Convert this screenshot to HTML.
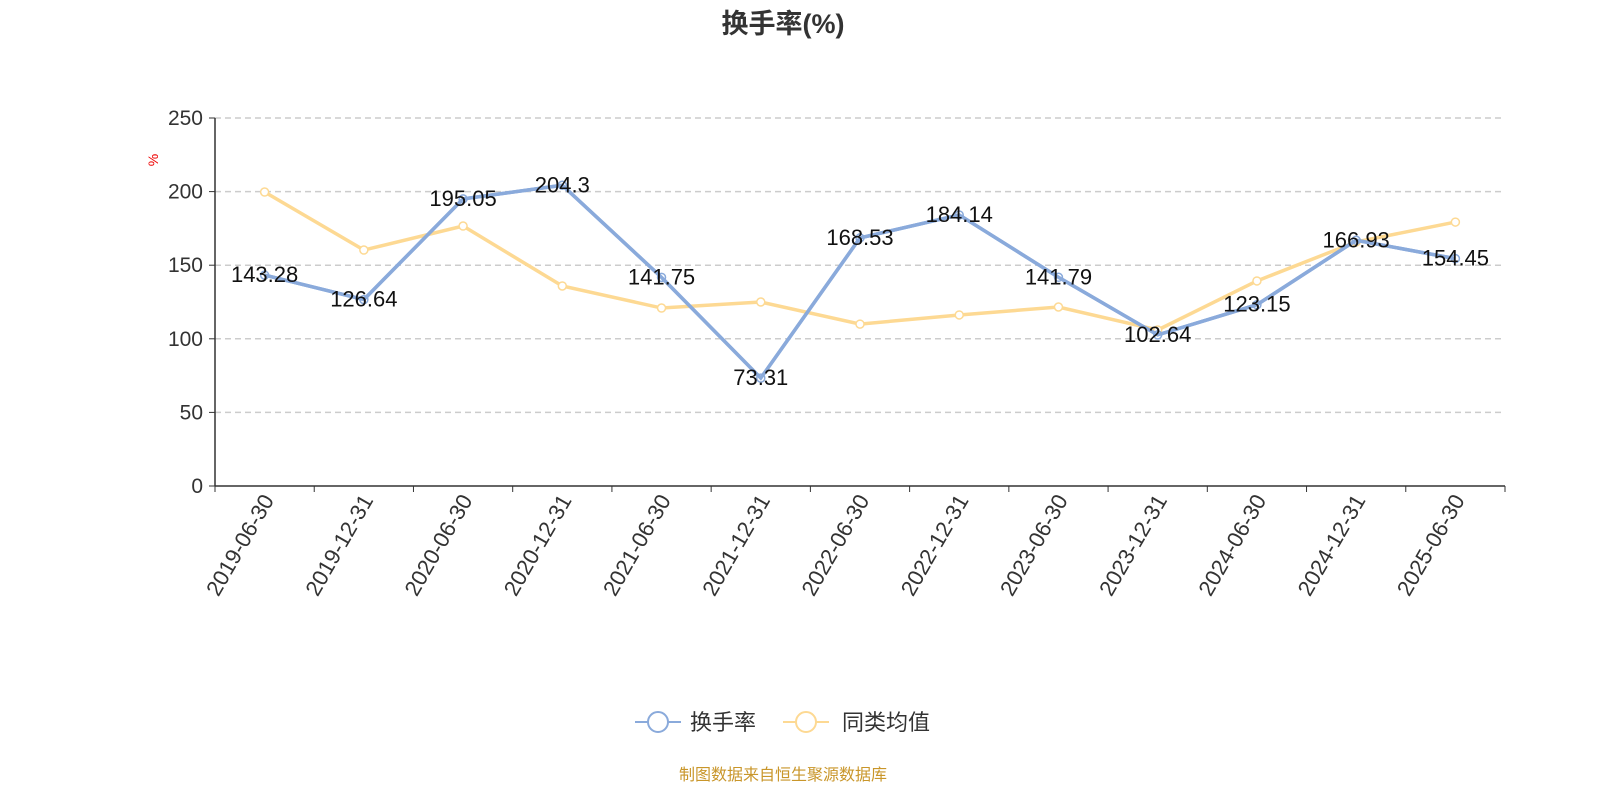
<!DOCTYPE html>
<html><head><meta charset="utf-8"><style>
body{margin:0;background:#fff;}
svg text{font-family:"Liberation Sans","Noto Sans CJK SC",sans-serif;}
</style></head><body>
<svg id="chart" width="1600" height="800">
<text x="783" y="33" text-anchor="middle" font-size="27" font-weight="bold" fill="#333">换手率(%)</text>
<text transform="translate(158,160) rotate(-90)" text-anchor="middle" font-size="14" fill="#e00">%</text>
<g id="grid"></g><g id="axes"></g><g id="series"></g>
<g>
<g>
<line x1="635" y1="722" x2="681" y2="722" stroke="#8aaadb" stroke-width="2"/>
<circle cx="658" cy="722" r="10" fill="#fff" stroke="#8aaadb" stroke-width="2"/>
<text x="690" y="730" font-size="22" fill="#333">换手率</text></g>
<g>
<line x1="783" y1="722" x2="829" y2="722" stroke="#fdd993" stroke-width="2"/>
<circle cx="806" cy="722" r="10" fill="#fff" stroke="#fdd993" stroke-width="2"/>
<text x="842" y="730" font-size="22" fill="#333">同类均值</text></g>
</g>
<text x="783" y="780" text-anchor="middle" font-size="16" fill="#c9962a">制图数据来自恒生聚源数据库</text>
</svg>
<script>
const categories=["2019-06-30","2019-12-31","2020-06-30","2020-12-31","2021-06-30","2021-12-31","2022-06-30","2022-12-31","2023-06-30","2023-12-31","2024-06-30","2024-12-31","2025-06-30"];
const turnover=[143.28,126.64,195.05,204.3,141.75,73.31,168.53,184.14,141.79,102.64,123.15,166.93,154.45];
const peerAvg=[199.7,160.3,176.6,135.9,120.9,125,110,116.2,121.6,106,139.3,165.8,179.3];
const yTicks=[0,50,100,150,200,250];
const NS="http://www.w3.org/2000/svg";
const X0=215,X1=1505,Y0=486,Y1=118,YMAX=250;
const bw=(X1-X0)/categories.length;
const xs=i=>X0+bw*(i+0.5);
const ys=v=>Y0-(v/YMAX)*(Y0-Y1);
function mk(tag,attrs,parent,txt){const e=document.createElementNS(NS,tag);for(const k in attrs)e.setAttribute(k,attrs[k]);if(txt!=null)e.textContent=txt;parent.appendChild(e);return e;}
const grid=document.getElementById('grid'),axes=document.getElementById('axes'),ser=document.getElementById('series');
yTicks.forEach(t=>{const y=ys(t);
 if(t>0){const g=mk('line',{x1:X0,x2:X1,y1:y,y2:y,stroke:'#ccc','stroke-dasharray':'6,4','stroke-width':1.5},grid);
 
 }
 mk('line',{x1:X0-6,x2:X0,y1:y,y2:y,stroke:'#333'},axes);
 const l=mk('text',{x:X0-12,y:y+7,'text-anchor':'end','font-size':21,fill:'#333'},axes,t);
 
 
});
mk('line',{x1:X0,x2:X0,y1:Y1,y2:Y0,stroke:'#333','stroke-width':1.5},axes);
mk('line',{x1:X0,x2:X1,y1:Y0,y2:Y0,stroke:'#333','stroke-width':1.5},axes);
for(let i=0;i<=categories.length;i++){const x=X0+bw*i;mk('line',{x1:x,x2:x,y1:Y0,y2:Y0+6,stroke:'#333'},axes);}
categories.forEach((c,i)=>{const x=xs(i);
 const l=mk('text',{transform:`translate(${x+10},${Y0+14}) rotate(-60)`,'text-anchor':'end','font-size':22,fill:'#333'},axes,c);
 
 
});
function series(vals,color,name,labels){
 const p=mk('polyline',{points:vals.map((v,i)=>xs(i)+','+ys(v)).join(' '),fill:'none',stroke:color,'stroke-width':3.5},ser);
 
 
 vals.forEach((v,i)=>{
  if(!labels){const c=mk('circle',{cx:xs(i),cy:ys(v),r:4,fill:'#fff',stroke:color,'stroke-width':1.5},ser);
  
  }
  else{const t=mk('text',{x:xs(i),y:ys(v)+7,'text-anchor':'middle','font-size':22,fill:'#111'},ser,v);
  
  }
 });
}
series(peerAvg,'#fdd993','peer-average',false);
series(turnover,'#8aaadb','turnover',false);
series(turnover,'#8aaadb','turnover',true);
</script>
</body></html>
